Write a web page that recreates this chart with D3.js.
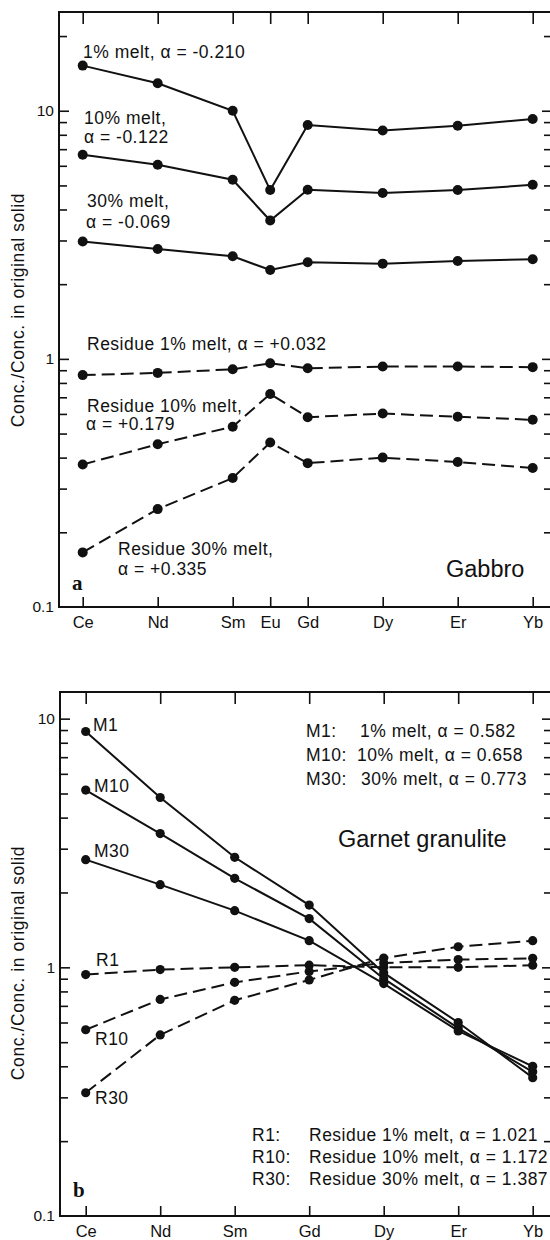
<!DOCTYPE html>
<html>
<head>
<meta charset="utf-8">
<script src="https://cdn.jsdelivr.net/npm/d3@7"></script>
<style>
  html, body { margin: 0; padding: 0; background: #fff; }
  svg { display: block; }
  text { font-family: "Liberation Sans", Arial, sans-serif; fill: #111; }
</style>
</head>
<body>
<svg id="chart" width="550" height="1240"></svg>
<script>
// ---- Panel a: gabbro ----
const gabbroElements = ["Ce", "Nd", "Sm", "Eu", "Gd", "Dy", "Er", "Yb"];
const gabbroZ = [58, 60, 62, 63, 64, 66, 68, 70];
const gabbroMelt1 = [15.2, 12.9, 10.0, 4.79, 8.76, 8.33, 8.70, 9.26];
const gabbroMelt10 = [6.65, 6.06, 5.27, 3.61, 4.80, 4.66, 4.79, 5.03];
const gabbroMelt30 = [2.97, 2.77, 2.59, 2.28, 2.45, 2.42, 2.48, 2.52];
const gabbroRes1 = [0.86, 0.878, 0.908, 0.96, 0.917, 0.931, 0.931, 0.926];
const gabbroRes10 = [0.375, 0.453, 0.533, 0.722, 0.582, 0.602, 0.584, 0.568];
const gabbroRes30 = [0.166, 0.248, 0.331, 0.46, 0.38, 0.40, 0.384, 0.363];

// ---- Panel b: garnet granulite ----
const garnetElements = ["Ce", "Nd", "Sm", "Gd", "Dy", "Er", "Yb"];
const garnetZ = [58, 60, 62, 64, 66, 68, 70];
const garnetM1 = [8.88, 4.82, 2.77, 1.78, 0.95, 0.60, 0.36];
const garnetM10 = [5.16, 3.45, 2.28, 1.57, 0.90, 0.57, 0.38];
const garnetM30 = [2.71, 2.15, 1.69, 1.28, 0.86, 0.555, 0.40];
const garnetR1 = [0.935, 0.979, 1.0, 1.02, 1.0, 1.0, 1.02];
const garnetR10 = [0.561, 0.743, 0.87, 0.963, 1.04, 1.074, 1.087];
const garnetR30 = [0.313, 0.535, 0.737, 0.89, 1.09, 1.21, 1.28];

// Axis tick values
const minorTicks = [0.2, 0.3, 0.4, 0.5, 0.6, 0.7, 0.8, 0.9, 2, 3, 4, 5, 6, 7, 8, 9, 20];
const majorTicks = [0.1, 1, 10];
const majorLabels = ["0.1", "1", "10"];

const yTitle = "Conc./Conc. in original solid";

const svg = d3.select("#chart");

function panel(cfg) {
  const g = svg.append("g");
  const x = d3.scaleLinear().domain([58, 70]).range([cfg.x0, cfg.x1]);
  const y = d3.scaleLog().domain(cfg.yDomain).range([cfg.bottom, cfg.top]);
  const left = cfg.left, right = 553;

  // frame
  g.append("rect")
    .attr("x", left).attr("y", cfg.top)
    .attr("width", right - left).attr("height", cfg.bottom - cfg.top)
    .attr("fill", "none").attr("stroke", "#111").attr("stroke-width", 2);

  const visMinor = minorTicks.filter(v => v > cfg.yDomain[0] && v < cfg.yDomain[1]);

  // inward y ticks, left
  const ly = g.append("g").attr("transform", `translate(${left},0)`)
    .call(d3.axisRight(y).tickValues(visMinor).tickSize(8).tickFormat(""));
  const lyM = g.append("g").attr("transform", `translate(${left},0)`)
    .call(d3.axisRight(y).tickValues([1, 10]).tickSize(10).tickFormat(""));
  // inward y ticks, right
  const ry = g.append("g").attr("transform", `translate(${right - 1},0)`)
    .call(d3.axisLeft(y).tickValues(visMinor).tickSize(8).tickFormat(""));
  const ryM = g.append("g").attr("transform", `translate(${right - 1},0)`)
    .call(d3.axisLeft(y).tickValues([1, 10]).tickSize(10).tickFormat(""));
  // y labels
  const yl = g.append("g").attr("transform", `translate(${left},0)`)
    .call(d3.axisLeft(y).tickValues(majorTicks).tickSize(0).tickPadding(5)
      .tickFormat((d, i) => majorLabels[i]));
  yl.selectAll("text").style("font-size", "15.5px").attr("fill", "#111")
    .style("font-family", "'Liberation Sans', Arial, sans-serif");

  // x ticks: top (pointing down) and bottom (pointing up)
  const tx = g.append("g").attr("transform", `translate(0,${cfg.top})`)
    .call(d3.axisBottom(x).tickValues(cfg.z).tickSize(12).tickFormat(""));
  const bx = g.append("g").attr("transform", `translate(0,${cfg.bottom})`)
    .call(d3.axisTop(x).tickValues(cfg.z).tickSize(10).tickFormat(""));
  const xl = g.append("g").attr("transform", `translate(0,${cfg.bottom})`)
    .call(d3.axisBottom(x).tickValues(cfg.z).tickSize(0).tickPadding(9)
      .tickFormat((d, i) => cfg.elements[i]));
  xl.selectAll("text").style("font-size", "16.5px").attr("fill", "#111")
    .style("font-family", "'Liberation Sans', Arial, sans-serif");

  [ly, lyM, ry, ryM, yl, tx, bx, xl].forEach(a => {
    a.select(".domain").remove();
    a.selectAll("line").attr("stroke", "#111").attr("stroke-width", 1.6);
  });

  // series
  const line = d3.line().x((d, i) => x(cfg.z[i])).y(d => y(d));
  cfg.series.forEach(s => {
    g.append("path").datum(s.values)
      .attr("d", line).attr("fill", "none").attr("stroke", "#111")
      .attr("stroke-width", 2)
      .attr("stroke-dasharray", s.dashed ? "13,6" : null);
    g.selectAll(null).data(s.values).enter().append("circle")
      .attr("cx", (d, i) => x(cfg.z[i])).attr("cy", d => y(d))
      .attr("r", cfg.r).attr("fill", "#111");
  });

  // y title
  g.append("text")
    .attr("transform", `translate(24,${cfg.titleY}) rotate(-90)`)
    .attr("text-anchor", "middle").style("font-size", "17.5px")
    .style("letter-spacing", "0.6px")
    .text(yTitle);

  // annotation texts
  cfg.texts.forEach(t => {
    const tt = g.append("text").attr("x", t.x).attr("y", t.y)
      .style("font-size", t.size + "px")
      .attr("text-anchor", t.anchor || "start")
      .text(t.text);
    if (t.serif) {
      tt.style("font-family", "'Liberation Serif', 'Times New Roman', serif")
        .style("font-weight", "bold");
    } else if (t.size < 20) {
      tt.style("letter-spacing", "0.5px");
    }
  });
  return g;
}

panel({
  left: 59, top: 12, bottom: 607, x0: 82.7, x1: 532.7,
  yDomain: [0.1, 25], z: gabbroZ, elements: gabbroElements, r: 5, titleY: 310,
  series: [
    { values: gabbroMelt1 }, { values: gabbroMelt10 }, { values: gabbroMelt30 },
    { values: gabbroRes1, dashed: true }, { values: gabbroRes10, dashed: true },
    { values: gabbroRes30, dashed: true }
  ],
  texts: [
    { x: 83, y: 58, size: 17.5, text: "1% melt, α = -0.210" },
    { x: 84, y: 124, size: 17.5, text: "10% melt," },
    { x: 84, y: 142.5, size: 17.5, text: "α = -0.122" },
    { x: 87, y: 207, size: 17.5, text: "30% melt," },
    { x: 86, y: 227.5, size: 17.5, text: "α = -0.069" },
    { x: 87, y: 350, size: 17.5, text: "Residue 1% melt, α = +0.032" },
    { x: 87, y: 411.5, size: 17.5, text: "Residue 10% melt," },
    { x: 86, y: 430, size: 17.5, text: "α = +0.179" },
    { x: 118, y: 555, size: 17.5, text: "Residue 30% melt," },
    { x: 118, y: 575, size: 17.5, text: "α = +0.335" },
    { x: 446, y: 577, size: 23.5, text: "Gabbro" },
    { x: 72, y: 590, size: 21, text: "a", serif: true }
  ]
});

panel({
  left: 60, top: 692, bottom: 1216, x0: 85.7, x1: 532.7,
  yDomain: [0.1, 12.8], z: garnetZ, elements: garnetElements, r: 4.6, titleY: 963,
  series: [
    { values: garnetM1 }, { values: garnetM10 }, { values: garnetM30 },
    { values: garnetR1, dashed: true }, { values: garnetR10, dashed: true },
    { values: garnetR30, dashed: true }
  ],
  texts: [
    { x: 93, y: 731, size: 17.5, text: "M1" },
    { x: 94, y: 792, size: 17.5, text: "M10" },
    { x: 94, y: 857, size: 17.5, text: "M30" },
    { x: 96, y: 966, size: 17.5, text: "R1" },
    { x: 95, y: 1045, size: 17.5, text: "R10" },
    { x: 95, y: 1104, size: 17.5, text: "R30" },
    { x: 306, y: 737, size: 17.5, text: "M1:" },
    { x: 360, y: 737, size: 17.5, text: "1% melt, α = 0.582" },
    { x: 306, y: 761, size: 17.5, text: "M10:" },
    { x: 357, y: 761, size: 17.5, text: "10% melt, α = 0.658" },
    { x: 306, y: 785, size: 17.5, text: "M30:" },
    { x: 361, y: 785, size: 17.5, text: "30% melt, α = 0.773" },
    { x: 338, y: 847, size: 23.5, text: "Garnet granulite" },
    { x: 252, y: 1141, size: 17.5, text: "R1:" },
    { x: 309, y: 1141, size: 17.5, text: "Residue 1% melt, α = 1.021" },
    { x: 252, y: 1163, size: 17.5, text: "R10:" },
    { x: 309, y: 1163, size: 17.5, text: "Residue 10% melt, α = 1.172" },
    { x: 252, y: 1185, size: 17.5, text: "R30:" },
    { x: 309, y: 1185, size: 17.5, text: "Residue 30% melt, α = 1.387" },
    { x: 73, y: 1197, size: 21, text: "b", serif: true }
  ]
});
</script>
</body>
</html>
